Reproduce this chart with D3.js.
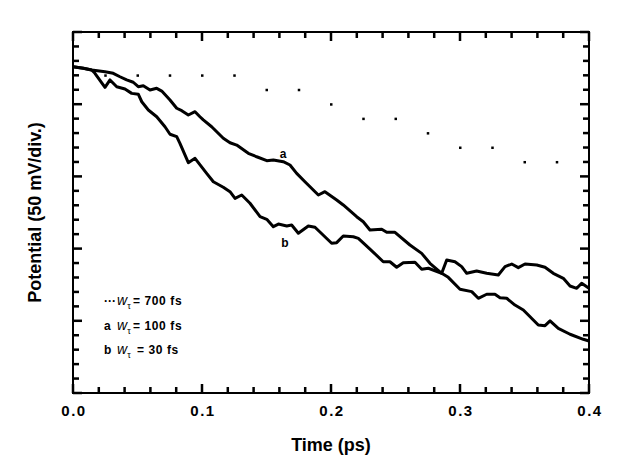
<!DOCTYPE html>
<html>
<head>
<meta charset="utf-8">
<script src="https://cdn.jsdelivr.net/npm/d3@7"></script>
<style>
  body { margin: 0; background: #fff; }
  text { font-family: "Liberation Sans", Arial, sans-serif; font-weight: bold; fill: #000; }
</style>
</head>
<body>
<div id="chart"></div>
<script>
// time in ps, potential in mV (50 mV per division)
const timeA = [0, 0.008, 0.0145, 0.0248, 0.0312, 0.0364, 0.0416, 0.0467, 0.0506, 0.0545, 0.0597, 0.0649, 0.0688, 0.0752, 0.0804, 0.0843, 0.0894, 0.0946, 0.0984, 0.101, 0.1075, 0.1165, 0.1217, 0.1269, 0.1359, 0.1424, 0.1502, 0.1553, 0.163, 0.1682, 0.1734, 0.1798, 0.1902, 0.1953, 0.2044, 0.2095, 0.2199, 0.225, 0.2302, 0.2393, 0.2432, 0.2496, 0.2612, 0.2703, 0.2767, 0.2858, 0.2897, 0.2961, 0.3013, 0.3052, 0.3129, 0.3207, 0.3297, 0.3349, 0.3401, 0.3452, 0.3504, 0.3595, 0.3659, 0.3723, 0.3801, 0.3853, 0.3905, 0.3943, 0.4];
const potA = [-24.0, -25.1, -26.3, -27.5, -28.6, -31.0, -33.2, -34.8, -37.9, -37.2, -40.2, -39.0, -40.9, -47.1, -52.8, -54.5, -57.5, -55.2, -58.7, -60.9, -65.6, -73.6, -76.7, -78.3, -84.0, -86.4, -89.1, -88.6, -89.8, -92.1, -97.9, -103.7, -112.9, -110.6, -116.3, -119.8, -127.9, -131.4, -137.1, -136.6, -138.7, -138.7, -147.5, -153.3, -160.2, -167.1, -157.9, -159.1, -162.5, -167.1, -165.5, -167.1, -168.3, -162.5, -160.7, -163.2, -160.7, -161.4, -162.9, -167.1, -170.6, -175.9, -177.5, -174.0, -177.5];

const timeB = [0, 0.008, 0.0145, 0.017, 0.0248, 0.0287, 0.0339, 0.0403, 0.0455, 0.0506, 0.0533, 0.0584, 0.0649, 0.0713, 0.0752, 0.0804, 0.0829, 0.0894, 0.0946, 0.1036, 0.1088, 0.1165, 0.1217, 0.1256, 0.1308, 0.1372, 0.145, 0.1502, 0.1553, 0.1592, 0.1657, 0.1695, 0.1747, 0.1824, 0.1876, 0.2005, 0.2044, 0.2095, 0.2173, 0.2212, 0.2302, 0.2405, 0.2457, 0.2509, 0.256, 0.2651, 0.2703, 0.2755, 0.2858, 0.2909, 0.3, 0.3091, 0.3142, 0.3207, 0.3271, 0.331, 0.3362, 0.3426, 0.3491, 0.3607, 0.3659, 0.3698, 0.3762, 0.3853, 0.3956, 0.4];
const potB = [-24.0, -25.1, -26.3, -28.6, -38.3, -33.2, -37.9, -39.5, -42.5, -43.1, -48.3, -54.0, -58.7, -65.6, -70.8, -72.5, -77.1, -90.5, -87.5, -97.9, -103.7, -107.5, -110.6, -115.2, -112.9, -118.6, -127.9, -129.7, -134.8, -133.0, -134.3, -133.7, -139.4, -134.3, -135.2, -146.3, -145.9, -141.3, -141.8, -142.9, -150.3, -159.1, -159.1, -162.9, -159.8, -159.5, -164.3, -163.6, -167.1, -169.9, -178.2, -179.8, -184.4, -181.6, -181.6, -184.0, -184.4, -189.1, -192.5, -202.9, -203.4, -200.1, -205.2, -209.3, -212.8, -214.0];

// w = 700 fs, dotted
const timeSlow = [0.025, 0.05, 0.075, 0.1, 0.125, 0.15, 0.175, 0.2, 0.225, 0.25, 0.275, 0.3, 0.325, 0.35, 0.375];
const potSlow = [-30, -30, -30, -30, -30, -40, -40, -50, -60, -60, -70, -80, -80, -90, -90];

const xMajor = [0, 0.1, 0.2, 0.3, 0.4];
const xMinor = [0.02, 0.04, 0.06, 0.08, 0.12, 0.14, 0.16, 0.18, 0.22, 0.24, 0.26, 0.28, 0.32, 0.34, 0.36, 0.38];
const yMajor = [0, -50, -100, -150, -200, -250];
const yMinor = [-10, -20, -30, -40, -60, -70, -80, -90, -110, -120, -130, -140, -160, -170, -180, -190, -210, -220, -230, -240];

const legendMarks = ['\u00b7\u00b7\u00b7', 'a', 'b'];
const legendValues = ['= 700 fs', '= 100 fs', ' = 30 fs'];

const width = 622, height = 473;
const margin = {top: 32, right: 33, bottom: 80, left: 73};

const svg = d3.select('#chart').append('svg')
  .attr('width', width)
  .attr('height', height);

const x = d3.scaleLinear().domain([0, 0.4]).range([margin.left, width - margin.right]);
const y = d3.scaleLinear().domain([-250, 0]).range([height - margin.bottom, margin.top]);

const x0 = x(0), x1 = x(0.4), yTop = y(0), yBot = y(-250);

// inward ticks on all four sides, drawn as small filled rects
const tickW = 2.5;
const xTicks = [...xMajor.map(v => ({v, len: 9})), ...xMinor.map(v => ({v, len: 6}))];
const yTicks = [...yMajor.map(v => ({v, len: 9})), ...yMinor.map(v => ({v, len: 6}))];
const ticks = svg.append('g').attr('fill', '#000');

ticks.selectAll('rect.xb').data(xTicks).join('rect').attr('class', 'xb')
  .attr('x', d => x(d.v) - tickW / 2).attr('width', tickW)
  .attr('y', d => yBot - d.len).attr('height', d => d.len);
ticks.selectAll('rect.xt').data(xTicks).join('rect').attr('class', 'xt')
  .attr('x', d => x(d.v) - tickW / 2).attr('width', tickW)
  .attr('y', yTop).attr('height', d => d.len);
ticks.selectAll('rect.yl').data(yTicks).join('rect').attr('class', 'yl')
  .attr('y', d => y(d.v) - tickW / 2).attr('height', tickW)
  .attr('x', x0).attr('width', d => d.len);
ticks.selectAll('rect.yr').data(yTicks).join('rect').attr('class', 'yr')
  .attr('y', d => y(d.v) - tickW / 2).attr('height', tickW)
  .attr('x', d => x1 - d.len).attr('width', d => d.len);

// tick labels
svg.append('g')
  .selectAll('text')
  .data(xMajor)
  .join('text')
  .attr('x', d => x(d) + 1)
  .attr('y', yBot + 23)
  .attr('text-anchor', 'middle')
  .style('font-size', '15px')
  .style('letter-spacing', '1.5px')
  .text(d3.format('.1f'));

// frame
svg.append('rect')
  .attr('x', x0)
  .attr('y', yTop)
  .attr('width', x1 - x0)
  .attr('height', yBot - yTop)
  .attr('fill', 'none')
  .attr('stroke', '#000')
  .attr('stroke-width', 2);

// curves
const line = d3.line()
  .x(d => x(d[0]))
  .y(d => y(d[1]));

[[timeA, potA], [timeB, potB]].forEach(([t, p]) => {
  svg.append('path')
    .datum(d3.zip(t, p))
    .attr('d', line)
    .attr('fill', 'none')
    .attr('stroke', '#000')
    .attr('stroke-width', 3)
    .attr('stroke-linejoin', 'round');
});

svg.append('g')
  .selectAll('rect')
  .data(d3.zip(timeSlow, potSlow))
  .join('rect')
  .attr('x', d => x(d[0]) - 1)
  .attr('y', d => y(d[1]) - 1)
  .attr('width', 2.5)
  .attr('height', 2.5)
  .attr('fill', '#000');

// curve labels
svg.append('text')
  .attr('x', x(0.1628))
  .attr('y', y(-87.3))
  .attr('text-anchor', 'middle')
  .style('font-size', '12px')
  .text('a');
svg.append('text')
  .attr('x', x(0.1643))
  .attr('y', y(-148.8))
  .attr('text-anchor', 'middle')
  .style('font-size', '12px')
  .text('b');

// legend
const legend = svg.append('g').attr('transform', 'translate(104,305)');
legendMarks.forEach((m, i) => {
  const row = legend.append('text')
    .attr('y', i * 24.5)
    .style('font-size', '12px');
  row.append('tspan').text(m);
  row.append('tspan').attr('x', 13).style('font-style', 'italic').style('font-weight', 'normal').style('font-size', '14px').text('w');
  row.append('tspan').attr('dy', 4).style('font-size', '9px').style('font-weight', 'normal').text('\u03c4');
  row.append('tspan').attr('x', 29).attr('dy', -4).style('letter-spacing', '0.6px').text(legendValues[i]);
});

// axis titles
svg.append('text')
  .attr('x', (x0 + x1) / 2)
  .attr('y', 451)
  .attr('text-anchor', 'middle')
  .style('font-size', '18px')
  .text('Time  (ps)');

svg.append('text')
  .attr('transform', `translate(41,${(yTop + yBot) / 2}) rotate(-90)`)
  .attr('text-anchor', 'middle')
  .style('font-size', '18px')
  .text('Potential  (50  mV/div.)');
</script>
</body>
</html>
